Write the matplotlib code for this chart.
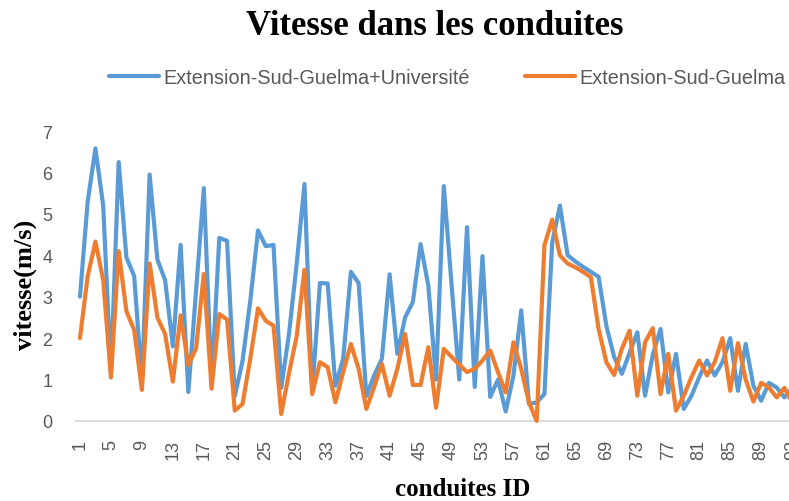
import matplotlib
matplotlib.use("Agg")
import matplotlib.pyplot as plt
import numpy as np

# Flow velocity (m/s) per pipe, two network scenarios
conduite_ids = list(range(1, 94))

vitesse_ext_univ = [
    3.0, 5.3, 6.58, 5.2, 1.15, 6.25, 3.95, 3.5, 0.95, 5.95,
    3.9, 3.4, 1.8, 4.25, 0.7, 3.15, 5.62, 0.9, 4.42, 4.35,
    0.6, 1.45, 2.9, 4.6, 4.22, 4.25, 0.8, 2.1, 3.8, 5.72,
    0.7, 3.33, 3.32, 0.85, 1.5, 3.6, 3.33, 0.6, 1.1, 1.5,
    3.54, 1.62, 2.5, 2.87, 4.27, 3.27, 1.0, 5.67, 3.3, 1.0,
    4.68, 0.82, 3.98, 0.58, 1.0, 0.23, 1.1, 2.67, 0.41, 0.45,
    0.65, 4.3, 5.2, 4.0, 3.85, 3.72, 3.6, 3.48, 2.3, 1.55,
    1.14, 1.65, 2.14, 0.61, 1.6, 2.22, 0.69, 1.62, 0.29, 0.61,
    1.06, 1.46, 1.1, 1.42, 2.0, 0.73, 1.86, 0.85, 0.49, 0.92,
    0.81, 0.57, 0.8,
]

vitesse_ext = [
    2.0, 3.5, 4.33, 3.4, 1.05, 4.1, 2.65, 2.2, 0.75, 3.8,
    2.5, 2.1, 0.95, 2.55, 1.35, 1.75, 3.55, 0.78, 2.58, 2.45,
    0.25, 0.41, 1.5, 2.72, 2.42, 2.3, 0.17, 1.15, 2.05, 3.65,
    0.65, 1.42, 1.3, 0.45, 1.18, 1.86, 1.26, 0.29, 0.82, 1.38,
    0.61, 1.26, 2.1, 0.87, 0.87, 1.78, 0.32, 1.74, 1.55, 1.36,
    1.18, 1.26, 1.46, 1.7, 1.18, 0.69, 1.9, 1.26, 0.45, 0.0,
    4.24, 4.86, 4.0, 3.8, 3.71, 3.6, 3.47, 2.22, 1.42, 1.11,
    1.74, 2.18, 0.61, 1.9, 2.24, 0.65, 1.62, 0.25, 0.61, 1.06,
    1.46, 1.1, 1.42, 2.0, 0.73, 1.88, 1.0, 0.47, 0.92, 0.81,
    0.57, 0.8, 0.45,
]

label_univ = "Extension-Sud-Guelma+Université"
label_ext = "Extension-Sud-Guelma"
xtick_values = list(range(1, 94, 4))
ytick_values = list(range(0, 8))

BLUE = "#5B9BD5"
ORANGE = "#ED7D31"
GREY_TXT = "#595959"
AXIS_GREY = "#D9D9D9"

sans = ["Liberation Sans", "DejaVu Sans"]
serif = ["Liberation Serif", "DejaVu Serif"]

W, H = 789, 502
fig = plt.figure(figsize=(W / 100, H / 100), dpi=100)

# plot area in pixel coordinates (right end runs past the canvas edge)
px_left, px_right = 76.1, 796.0
px_top, px_bottom = 132.0, 422.0
ax = fig.add_axes([px_left / W, 1 - px_bottom / H,
                   (px_right - px_left) / W, (px_bottom - px_top) / H])

x = np.array(conduite_ids)
l1, = ax.plot(x, vitesse_ext_univ, color=BLUE, lw=3.0,
              solid_joinstyle="round", solid_capstyle="round",
              label=label_univ, clip_on=False, zorder=2)
l2, = ax.plot(x, vitesse_ext, color=ORANGE, lw=3.0,
              solid_joinstyle="round", solid_capstyle="round",
              label=label_ext, clip_on=False, zorder=3)

ax.set_xlim(0.5, 93.5)
ax.set_ylim(0, 7)

for side in ("top", "right", "left"):
    ax.spines[side].set_visible(False)
ax.spines["bottom"].set_color(AXIS_GREY)
ax.spines["bottom"].set_linewidth(1.3)

ax.set_xticks(xtick_values)
ax.set_xticklabels([str(v) for v in xtick_values], rotation=90,
                   fontfamily=sans, fontsize=13, color=GREY_TXT)
ax.set_yticks(ytick_values)
ax.set_yticklabels([str(v) for v in ytick_values],
                   fontfamily=sans, fontsize=13, color=GREY_TXT)
ax.tick_params(axis="x", length=0, pad=13)
ax.tick_params(axis="y", length=0, pad=17)

fig.text(435 / W, 1 - 35 / H, "Vitesse dans les conduites",
         ha="center", va="baseline", fontsize=25, fontweight="bold",
         fontfamily=serif)
fig.text(463 / W, 1 - 496 / H, "conduites ID",
         ha="center", va="baseline", fontsize=18, fontweight="bold",
         fontfamily=serif)
fig.text(25 / W, 1 - 285 / H, "vitesse(m/s)", rotation=90,
         ha="center", va="center", fontsize=19, fontweight="bold",
         fontfamily=serif)

fig.legend(handles=[l1, l2], loc="center left",
           bbox_to_anchor=(109 / W, 1 - 78 / H), ncol=2, frameon=False,
           prop={"family": sans, "size": 14.3}, labelcolor=GREY_TXT,
           handlelength=2.5, handletextpad=0.22, columnspacing=2.8,
           borderpad=0, borderaxespad=0)

fig.savefig("out.png", dpi=100)
